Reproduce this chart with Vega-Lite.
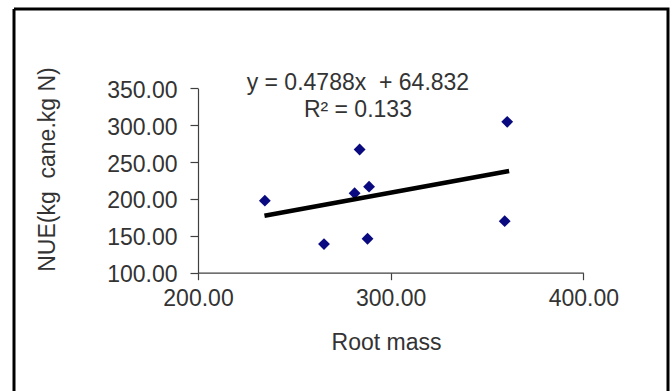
{
  "$schema": "https://vega.github.io/schema/vega-lite/v6.json",
  "width": 654,
  "height": 382,
  "autosize": {"type": "none"},
  "padding": {"left": 14, "top": 9, "right": 4, "bottom": 0},
  "background": "white",
  "config": {
    "view": {"stroke": "black", "strokeWidth": 3, "strokeDash": [1036, 654, 382, 0]},
    "font": "Liberation Sans",
    "axis": {
      "grid": false,
      "domainColor": "#404040",
      "tickColor": "#404040",
      "domainWidth": 1.2,
      "tickWidth": 1.2,
      "labelColor": "#333333",
      "titleColor": "#333333",
      "labelFontSize": 23,
      "titleFontSize": 23,
      "titleFontWeight": "normal",
      "labelFont": "Liberation Sans",
      "titleFont": "Liberation Sans",
      "labelFlush": false,
      "labelOverlap": false
    }
  },
  "datasets": {
    "points": [
      {"rm": 234.7, "nue": 197.7},
      {"rm": 265.4, "nue": 138.8},
      {"rm": 281.3, "nue": 207.7},
      {"rm": 283.9, "nue": 267.0},
      {"rm": 288.8, "nue": 216.6},
      {"rm": 288.0, "nue": 146.0},
      {"rm": 360.5, "nue": 304.5},
      {"rm": 359.2, "nue": 169.9}
    ],
    "trend": [
      {"rm": 234.5, "nue": 177.1},
      {"rm": 361.5, "nue": 237.9}
    ],
    "notes": [
      {"label": "y = 0.4788x\u00a0 + 64.832", "rm": 283, "nue": 347.7},
      {"label": "R² = 0.133", "rm": 283, "nue": 311.5}
    ]
  },
  "layer": [
    {
      "data": {"name": "points"},
      "mark": {"type": "point", "shape": "diamond", "filled": true, "opacity": 1, "size": 140, "color": "#0a0a80"},
      "encoding": {
        "x": {
          "field": "rm",
          "type": "quantitative",
          "scale": {"domain": [200, 400], "range": [184, 569.3], "nice": false, "zero": false},
          "axis": {
            "title": "Root mass",
            "values": [200, 300, 400],
            "format": ".2f",
            "offset": -118.3,
            "tickSize": 7,
            "labelPadding": 8,
            "titleX": 372,
            "titleY": 77,
            "titleAlign": "center",
            "titleBaseline": "alphabetic"
          }
        },
        "y": {
          "field": "nue",
          "type": "quantitative",
          "scale": {"domain": [100, 350], "range": [263.7, 79.3], "nice": false, "zero": false},
          "axis": {
            "title": "NUE(kg\u00a0 cane.kg N)",
            "values": [100, 150, 200, 250, 300, 350],
            "format": ".2f",
            "offset": -184,
            "tickSize": 8,
            "labelPadding": 13,
            "labelOffset": 2,
            "titleX": -151,
            "titleY": 160,
            "titleAngle": -90,
            "titleFontSize": 23,
            "titleAlign": "center",
            "titleBaseline": "middle"
          }
        }
      }
    },
    {
      "data": {"name": "trend"},
      "mark": {"type": "line", "color": "black", "strokeWidth": 4.5},
      "encoding": {
        "x": {"field": "rm", "type": "quantitative"},
        "y": {"field": "nue", "type": "quantitative"}
      }
    },
    {
      "data": {"name": "notes"},
      "mark": {
        "type": "text",
        "font": "Liberation Sans",
        "fontSize": 23,
        "align": "center",
        "baseline": "alphabetic",
        "color": "#333333"
      },
      "encoding": {
        "text": {"field": "label", "type": "nominal"},
        "x": {"field": "rm", "type": "quantitative"},
        "y": {"field": "nue", "type": "quantitative"}
      }
    }
  ]
}
